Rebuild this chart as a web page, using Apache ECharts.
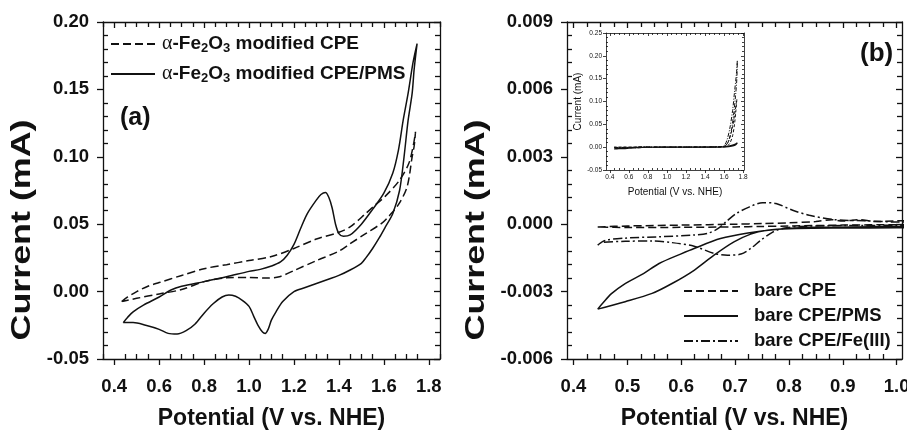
<!DOCTYPE html>
<html><head><meta charset="utf-8">
<script src="https://cdn.jsdelivr.net/npm/echarts@6/dist/echarts.min.js"></script>
<style>html,body{margin:0;padding:0;background:#fff}#c{width:907px;height:435px}</style>
</head><body><div id="c"></div>
<script>
// ---------- Panel (a) data: potential (V vs. NHE), current (mA) ----------
const aNameCPE = 'α-Fe2O3 modified CPE';
const aNamePMS = 'α-Fe2O3 modified CPE/PMS';
const aCPE = [
  [0.433,-0.0074],[0.46,-0.004],[0.5,0.0],[0.55,0.004],[0.6,0.0067],[0.7,0.012],[0.8,0.017],[0.9,0.020],
  [1.0,0.023],[1.1,0.026],[1.2,0.032],[1.3,0.039],[1.4,0.044],[1.45,0.048],[1.52,0.058],[1.56,0.064],
  [1.608,0.071],[1.667,0.082],[1.711,0.095],[1.733,0.110],[1.741,0.1186],
  [1.735,0.108],[1.726,0.100],[1.704,0.078],[1.667,0.065],[1.623,0.056],[1.593,0.051],[1.519,0.043],
  [1.445,0.035],[1.4,0.030],[1.3,0.023],[1.2,0.0156],[1.135,0.011],[1.08,0.010],[1.0,0.0105],
  [0.9,0.0102],[0.8,0.0074],[0.7,0.0015],[0.6,-0.0017],[0.5,-0.005],[0.44,-0.0072]
];
const aPMS = [
  [0.44,-0.023],[0.46,-0.019],[0.484,-0.015],[0.53,-0.010],[0.6,-0.004],[0.65,0.001],[0.7,0.004],
  [0.8,0.0074],[0.9,0.011],[1.0,0.015],[1.05,0.0165],[1.1,0.019],[1.14,0.022],[1.17,0.027],[1.2,0.035],
  [1.23,0.047],[1.26,0.058],[1.3,0.068],[1.32,0.072],[1.34,0.0735],[1.355,0.070],[1.37,0.062],
  [1.385,0.050],[1.4,0.043],[1.42,0.041],[1.45,0.042],[1.5,0.050],[1.55,0.061],[1.6,0.073],
  [1.64,0.088],[1.665,0.105],[1.686,0.127],[1.708,0.147],[1.73,0.170],[1.748,0.184],
  [1.735,0.165],[1.726,0.147],[1.708,0.127],[1.69,0.100],[1.67,0.075],[1.64,0.058],[1.607,0.048],
  [1.58,0.040],[1.55,0.032],[1.52,0.025],[1.5,0.021],[1.45,0.016],[1.4,0.012],[1.35,0.009],[1.3,0.006],
  [1.25,0.003],[1.2,0.0],[1.15,-0.0074],[1.12,-0.015],[1.1,-0.021],[1.085,-0.028],[1.072,-0.031],
  [1.06,-0.030],[1.04,-0.025],[1.02,-0.018],[1.0,-0.011],[0.97,-0.0065],[0.94,-0.0035],[0.91,-0.0025],
  [0.88,-0.004],[0.84,-0.009],[0.8,-0.016],[0.76,-0.024],[0.72,-0.029],[0.68,-0.0315],[0.64,-0.031],
  [0.6,-0.028],[0.54,-0.025],[0.484,-0.023],[0.44,-0.023]
];
const aXTicks = [0.4,0.6,0.8,1.0,1.2,1.4,1.6,1.8];
const aYTicks = [-0.05,0.00,0.05,0.10,0.15,0.20];

// ---------- Panel (b) data (full scans; main view is zoomed, inset shows all) ----------
const bNameCPE = 'bare CPE';
const bNamePMS = 'bare CPE/PMS';
const bNameFe = 'bare CPE/Fe(III)';
const bCPE = [
  [0.445,-0.00012],[0.5,-0.00008],[0.6,-0.00004],[0.7,0.0],[0.75,0.00003],[0.8,0.00006],[0.85,0.00012],
  [0.88,0.0002],[0.9,0.00014],[0.93,0.0002],[0.96,0.00012],[1.0,0.00015],[1.2,0.0002],[1.4,0.0004],
  [1.55,0.001],[1.6,0.002],[1.63,0.006],[1.66,0.02],[1.69,0.045],[1.71,0.07],[1.735,0.105],
  [1.725,0.08],[1.71,0.05],[1.69,0.025],[1.66,0.008],[1.63,0.002],[1.6,0.0005],[1.4,0.0001],[1.2,0.0],
  [1.0,-0.00002],[0.9,-0.00004],[0.8,-0.00008],[0.75,-0.0001],[0.7,-0.00012],[0.6,-0.00014],
  [0.5,-0.00015],[0.445,-0.00012]
];
const bPMS = [
  [0.445,-0.00378],[0.455,-0.0035],[0.47,-0.0031],[0.496,-0.00264],[0.53,-0.0022],[0.559,-0.00175],
  [0.6,-0.00132],[0.624,-0.00108],[0.673,-0.00064],[0.724,-0.00039],[0.78,-0.00022],[0.85,-0.00014],
  [1.0,-0.0001],[1.2,-0.00005],[1.4,0.0],[1.55,0.0004],[1.62,0.0015],[1.68,0.004],[1.72,0.007],[1.74,0.0095],
  [1.72,0.005],[1.68,0.002],[1.62,0.0004],[1.4,-0.0001],[1.2,-0.00014],[1.0,-0.00016],[0.9,-0.00017],
  [0.8,-0.0002],[0.76,-0.00027],[0.729,-0.00044],[0.698,-0.00079],[0.661,-0.00138],[0.624,-0.00205],
  [0.583,-0.00264],[0.546,-0.00308],[0.496,-0.00345],[0.445,-0.00378]
];
const bFe = [
  [0.445,-0.00093],[0.459,-0.00072],[0.496,-0.00062],[0.559,-0.00056],[0.624,-0.00048],[0.65,-0.0004],
  [0.668,-0.0002],[0.683,0.0001],[0.702,0.00047],[0.727,0.00077],[0.751,0.00096],[0.776,0.00092],
  [0.807,0.00062],[0.838,0.0004],[0.882,0.00021],[0.94,0.00015],[1.0,0.0001],[1.2,0.0002],[1.4,0.0005],
  [1.55,0.0012],[1.6,0.003],[1.63,0.015],[1.66,0.04],[1.69,0.08],[1.71,0.12],[1.73,0.16],[1.74,0.19],
  [1.735,0.15],[1.72,0.11],[1.7,0.07],[1.68,0.04],[1.65,0.015],[1.62,0.004],[1.58,0.001],[1.4,0.0],
  [1.2,-0.00003],[1.0,-0.00005],[0.9,-0.00006],[0.82,-0.0001],[0.79,-0.00018],[0.77,-0.00035],
  [0.748,-0.00071],[0.729,-0.00108],[0.711,-0.00133],[0.686,-0.00138],[0.661,-0.0013],[0.624,-0.00098],
  [0.583,-0.00082],[0.546,-0.00075],[0.496,-0.00076],[0.452,-0.00082],[0.445,-0.00093]
];
const bXTicks = [0.4,0.5,0.6,0.7,0.8,0.9,1.0];
const bYTicks = [-0.006,-0.003,0.000,0.003,0.006,0.009];
const iXTicks = [0.4,0.6,0.8,1.0,1.2,1.4,1.6,1.8];
const iYTicks = [-0.05,0.00,0.05,0.10,0.15,0.20,0.25];

// ---------- helpers ----------
const INK = '#111';
const FONT = '"Liberation Sans", Arial, sans-serif';
function minorsOf(min, max, step, majors) {
  const out = [];
  const start = Math.ceil(min / step - 1e-9);
  for (let k = start; k * step <= max + 1e-9; k++) {
    const v = +(k * step).toFixed(6);
    if (!majors.some(m => Math.abs(m - v) < 1e-9)) out.push(v);
  }
  return out;
}
function axesFor(dim, grid, min, max, majors, minorStep, dec, cfg) {
  const minors = minorsOf(min, max, minorStep, majors);
  const pos = dim === 'x' ? ['bottom', 'top'] : ['left', 'right'];
  const base = { gridIndex: grid, type: 'value', min: min, max: max, splitLine: { show: false }, axisPointer: { show: false } };
  const line = { show: true, onZero: false, lineStyle: { color: INK, width: cfg.lw } };
  const noLine = { show: false, onZero: false };
  return [
    Object.assign({}, base, {
      position: pos[0], axisLine: line,
      axisTick: { show: true, inside: false, length: cfg.majLen, customValues: majors, lineStyle: { color: INK, width: cfg.lw } },
      axisLabel: { show: true, customValues: majors, formatter: v => (+v).toFixed(dec), margin: cfg.margin,
        fontSize: cfg.fs, fontWeight: cfg.fw, color: INK, fontFamily: FONT },
      name: cfg.name, nameLocation: 'middle', nameGap: cfg.nameGap,
      nameTextStyle: { fontSize: cfg.nfs, fontWeight: cfg.fw, color: INK, fontFamily: FONT }
    }),
    Object.assign({}, base, {
      position: pos[0], axisLine: noLine,
      axisTick: { show: true, inside: true, length: cfg.minLen, customValues: minors, lineStyle: { color: INK, width: cfg.lw } },
      axisLabel: { show: false }
    }),
    Object.assign({}, base, {
      position: pos[1], axisLine: line,
      axisTick: { show: true, inside: true, length: cfg.majLen, customValues: majors, lineStyle: { color: INK, width: cfg.lw } },
      axisLabel: { show: false }
    }),
    Object.assign({}, base, {
      position: pos[1], axisLine: noLine,
      axisTick: { show: true, inside: true, length: cfg.minLen, customValues: minors, lineStyle: { color: INK, width: cfg.lw } },
      axisLabel: { show: false }
    })
  ];
}
const mainCfg = { lw: 1.3, majLen: 6, minLen: 5, fs: 18.5, fw: 'bold', nfs: 23 };
const insetCfg = { lw: 0.8, majLen: 3, minLen: 2, fs: 6.5, fw: 'normal', nfs: 10 };

const xAxes = [].concat(
  axesFor('x', 0, 0.35, 1.85, aXTicks, 0.05, 1, Object.assign({}, mainCfg, { margin: 18, name: 'Potential (V vs. NHE)', nameGap: 48 })),
  axesFor('x', 1, 0.388, 1.01, bXTicks, 0.025, 1, Object.assign({}, mainCfg, { margin: 18, name: 'Potential (V vs. NHE)', nameGap: 48 })),
  axesFor('x', 2, 0.36, 1.81, iXTicks, 0.05, 1, Object.assign({}, insetCfg, { margin: 4, name: 'Potential (V vs. NHE)', nameGap: 17 }))
);
const yAxes = [].concat(
  axesFor('y', 0, -0.05, 0.20, aYTicks, 0.01, 2, Object.assign({}, mainCfg, { margin: 14, name: '' })),
  axesFor('y', 1, -0.006, 0.009, bYTicks, 0.0006, 3, Object.assign({}, mainCfg, { margin: 14, name: '' })),
  axesFor('y', 2, -0.05, 0.25, iYTicks, 0.01, 2, Object.assign({}, insetCfg, { margin: 4, name: 'Current (mA)', nameGap: 22 }))
);

function ser(name, data, grid, dash, lw) {
  return {
    name: name, type: 'line', data: data, xAxisIndex: grid * 4, yAxisIndex: grid * 4,
    showSymbol: false, symbol: 'none', smooth: 0.3, clip: true, animation: false,
    itemStyle: { color: INK },
    lineStyle: { color: INK, width: lw, type: dash }
  };
}
const DASH = [8, 4];
const DASHDOT = [9, 3, 2, 3];
const series = [
  ser(aNameCPE, aCPE, 0, DASH, 1.5),
  ser(aNamePMS, aPMS, 0, 'solid', 1.5),
  ser(bNameCPE, bCPE, 1, DASH, 1.5),
  ser(bNamePMS, bPMS, 1, 'solid', 1.5),
  ser(bNameFe, bFe, 1, DASHDOT, 1.5),
  ser(bNameCPE, bCPE, 2, [3, 2], 1),
  ser(bNamePMS, bPMS, 2, 'solid', 1.2),
  ser(bNameFe, bFe, 2, [4, 1.5, 1, 1.5], 1)
];

const subFmt = n => n.replace('α', '{g|α}{t|').replace('Fe2O3', 'Fe}{s|2}{t|O}{s|3}{t|') + '}';
const yTitle = (cx) => ({
  type: 'text', x: cx, y: 230, rotation: Math.PI / 2, scaleX: 1.28, scaleY: 1,
  style: { text: 'Current (mA)', fontSize: 28, fontWeight: 'bold', fontFamily: FONT, fill: INK,
    align: 'center', verticalAlign: 'middle' }
});
const chart = echarts.init(document.getElementById('c'), null, { renderer: 'canvas' });
chart.setOption({
  backgroundColor: '#fff',
  animation: false,
  grid: [
    { left: 103, top: 22, width: 337, height: 337, outerBoundsMode: 'none', containLabel: false },
    { left: 567, top: 22, width: 335, height: 337, outerBoundsMode: 'none', containLabel: false },
    { left: 606, top: 33, width: 138, height: 137, outerBoundsMode: 'none', containLabel: false,
      backgroundColor: '#fff', show: true, borderWidth: 0 }
  ],
  xAxis: xAxes,
  yAxis: yAxes,
  legend: [
    {
      data: [aNameCPE, aNamePMS], orient: 'vertical', left: 105, top: 29, itemWidth: 44, itemHeight: 14,
      itemGap: 9, selectedMode: false, formatter: subFmt, itemStyle: { opacity: 0, borderWidth: 0 },
      textStyle: { color: INK, padding: [0, 0, 0, 2],
        rich: {
          t: { fontSize: 19, fontWeight: 'bold', fontFamily: FONT, color: INK },
          g: { fontSize: 20, fontFamily: '"Liberation Serif", serif', color: INK },
          s: { fontSize: 13, fontWeight: 'bold', fontFamily: FONT, color: INK, padding: [9, 0, 0, 0] }
        } }
    },
    {
      data: [bNameCPE, bNamePMS, bNameFe], orient: 'vertical', left: 678, top: 275, itemWidth: 54, itemHeight: 14,
      itemGap: 3, selectedMode: false, itemStyle: { opacity: 0, borderWidth: 0 },
      textStyle: { color: INK, fontSize: 18.5, fontWeight: 'bold', fontFamily: FONT, padding: [0, 0, 0, 11], lineHeight: 22 }
    }
  ],
  graphic: [
    { type: 'text', left: 120, top: 106, style: { text: '(a)', fontSize: 25, fontWeight: 'bold', fontFamily: FONT, fill: INK } },
    { type: 'text', left: 860, top: 41, style: { text: '(b)', fontSize: 26, fontWeight: 'bold', fontFamily: FONT, fill: INK } },
    yTitle(22.5),
    yTitle(476)
  ],
  series: series
});
</script></body></html>
